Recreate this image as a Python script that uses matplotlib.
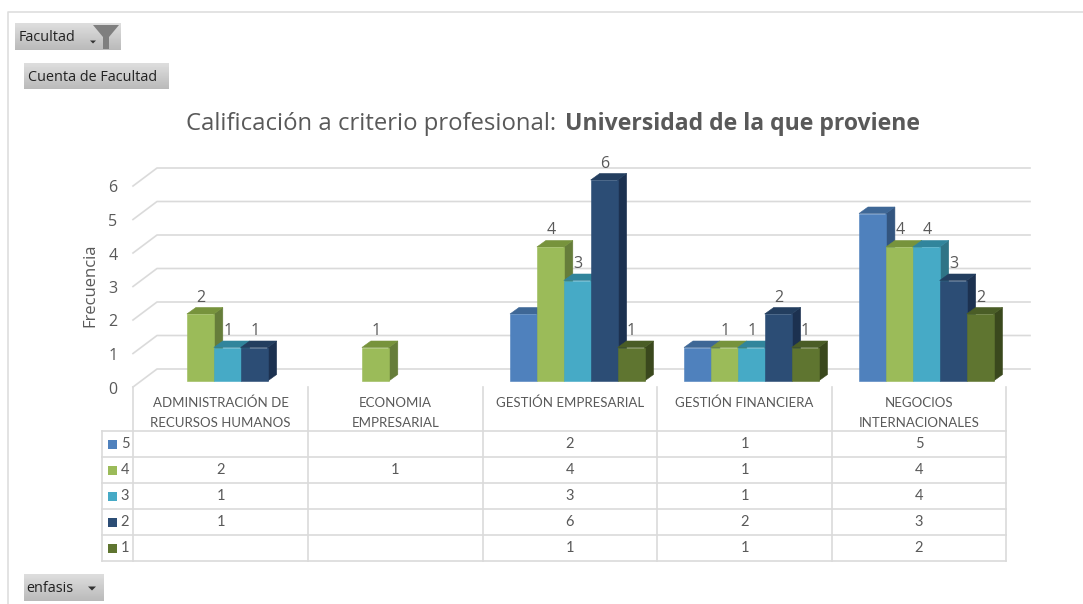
"""Excel-style pivot 3D bar chart: Universidad de la que proviene."""
import numpy as np
import matplotlib
matplotlib.use("Agg")
import matplotlib.pyplot as plt
from matplotlib.patches import Polygon, Rectangle

plt.rcParams.update({"font.family": "Open Sans", "font.size": 10})

categorias = ["ADMINISTRACIÓN DE\nRECURSOS HUMANOS", "ECONOMIA\nEMPRESARIAL",
              "GESTIÓN EMPRESARIAL", "GESTIÓN FINANCIERA", "NEGOCIOS\nINTERNACIONALES"]
series = ["5", "4", "3", "2", "1"]
serie_5 = [None, None, 2, 1, 5]
serie_4 = [2, 1, 4, 1, 4]
serie_3 = [1, None, 3, 1, 4]
serie_2 = [1, None, 6, 2, 3]
serie_1 = [None, None, 1, 1, 2]
valores = [serie_5, serie_4, serie_3, serie_2, serie_1]
ticks_y = [0, 1, 2, 3, 4, 5, 6]

# front, top, side colours per series
FRONT = ["#4F81BD", "#9BBB59", "#46AAC6", "#2C4D75", "#5F7530"]
TOP = ["#3E6796", "#77933C", "#31859C", "#233E5F", "#4A5D26"]
SIDE = ["#33557F", "#667D3A", "#2F7486", "#1C3150", "#3A481D"]
GRID = "#DADADA"
TEXT = "#595959"
TABLA = "Lato"

# layout, in pixels of the 1083x604 picture
COLS = [133, 308, 483, 657, 832, 1006]
ROWS = [431, 457, 483, 509, 535, 561]
TABLE_L = 102
Y0, UNIT = 381, 33.5
WALL_Y0, WALL_UNIT, WALL_DX, WALL_DY = 369, 33.5, 24, 18
BAR_W, BAR_OFF, DX, DY = 26.9, 27, 9, 6.5

fig = plt.figure(figsize=(10.83, 6.04), dpi=100, facecolor="white")
ax = fig.add_axes([0, 0, 1, 1])


def button(x0, y0, x1, y1):
    grad = np.linspace(0.87, 0.73, 32).reshape(-1, 1)
    ax.imshow(grad, extent=(x0, x1, y1, y0), cmap="gray", vmin=0, vmax=1,
              aspect="auto", zorder=2)


def arrow(x, y, w=6, h=3, color="#333333"):
    ax.add_patch(Polygon([(x - w / 2, y), (x + w / 2, y), (x, y + h)], color=color, lw=0, zorder=3))


def face(puntos, color):
    # thin edge in the same colour closes the antialiasing gaps between faces
    ax.add_patch(Polygon(puntos, facecolor=color, edgecolor=color, lw=0.4, zorder=4))


# outer frame
ax.plot([8, 8, 1083], [604, 12, 12], color="#DEDEDE", lw=1.2, zorder=1)

# pivot buttons
button(15, 23, 121, 50)
button(24, 63, 169, 89)
button(24, 574, 104, 601)
ax.set_xlim(0, 1083)
ax.set_ylim(604, 0)
ax.text(19, 37.5, "Facultad", fontsize=10.4, color="#222222", ha="left", va="center", zorder=3)
ax.text(28, 77.5, "Cuenta de Facultad", fontsize=10.4, color="#222222", ha="left", va="center", zorder=3)
ax.text(26, 589, "enfasis", fontsize=10.4, color="#222222", ha="left", va="center", zorder=3)
arrow(93, 40.5)
arrow(92, 586.5, w=8, h=4)
ax.add_patch(Polygon([(93, 25), (119, 25), (109, 37), (109, 49), (103, 49), (103, 37)],
                     color="#7F7F7F", lw=0, zorder=3))

# title, two weights side by side
t1 = ax.text(186, 124, "Calificación a criterio profesional:", fontsize=17.2, color=TEXT,
             ha="left", va="center")
fig.canvas.draw()
bb = t1.get_window_extent()
ax.text(bb.x1 + 9, 124, "Universidad de la que proviene", fontsize=16.6, color=TEXT,
        fontweight="bold", ha="left", va="center")

# back wall grid and left wall diagonals
for v in ticks_y:
    yw = WALL_Y0 - v * WALL_UNIT
    ax.plot([COLS[0], COLS[0] + WALL_DX, COLS[-1] + WALL_DX],
            [yw + WALL_DY, yw, yw], color=GRID, lw=1.2, zorder=1)
    ax.text(113, yw + 20.5, str(v), fontsize=11.5, color=TEXT, ha="center", va="center")
ax.text(90, 285, "Frecuencia", fontsize=12, color=TEXT, rotation=90, ha="center", va="center")

# bars: left to right so the next front face hides the previous side
for i in range(len(categorias)):
    for s, vals in enumerate(valores):
        v = vals[i]
        if v is None:
            continue
        x0 = COLS[i] + BAR_OFF + s * BAR_W
        x1 = x0 + BAR_W
        top = Y0 - v * UNIT
        face([(x1, top), (x1 + DX, top - DY), (x1 + DX, Y0 - DY), (x1, Y0)], SIDE[s])
        face([(x0, top), (x1, top), (x1 + DX, top - DY), (x0 + DX, top - DY)], TOP[s])
        face([(x0, top), (x1, top), (x1, Y0), (x0, Y0)], FRONT[s])
# the reference shows no bar labels for series 5
for i in range(len(categorias)):
    for s, vals in enumerate(valores):
        v = vals[i]
        if v is None or series[s] == "5":
            continue
        x0 = COLS[i] + BAR_OFF + s * BAR_W
        ax.text(x0 + BAR_W / 2 + 0.5, Y0 - v * UNIT - 16.5, str(v), fontsize=11.5, color=TEXT,
                ha="center", va="center", zorder=5)

# data table
for x in COLS:
    ax.plot([x, x], [387, ROWS[-1]], color=GRID, lw=1.2, zorder=1)
ax.plot([TABLE_L, TABLE_L], [ROWS[0], ROWS[-1]], color=GRID, lw=1.2, zorder=1)
for y in ROWS:
    ax.plot([TABLE_L, COLS[-1]], [y, y], color=GRID, lw=1.2, zorder=1)

for i, cat in enumerate(categorias):
    xc = (COLS[i] + COLS[i + 1]) / 2
    lineas = cat.split("\n")
    for k, linea in enumerate(lineas):
        ax.text(xc, 403 + k * 20, linea, fontsize=9.5, color=TEXT, ha="center", va="center",
                family=TABLA)
for s, nombre in enumerate(series):
    yc = (ROWS[s] + ROWS[s + 1]) / 2
    ax.add_patch(Rectangle((108, yc - 4.5), 9, 9, color=FRONT[s], lw=0, zorder=3))
    ax.text(125, yc, nombre, fontsize=10.5, color=TEXT, ha="center", va="center", family=TABLA)
    for i, v in enumerate(valores[s]):
        if v is not None:
            ax.text((COLS[i] + COLS[i + 1]) / 2, yc + 0.5, str(v), fontsize=10.5, color=TEXT,
                    ha="center", va="center", family=TABLA)

ax.axis("off")
fig.savefig("out.png", dpi=100)
